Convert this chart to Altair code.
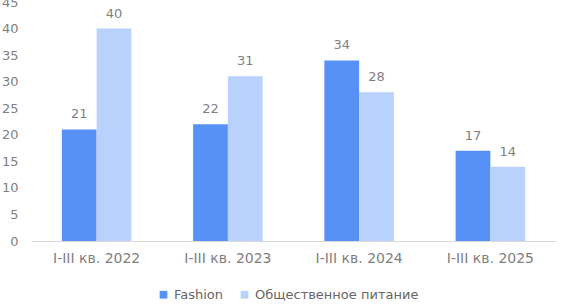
import altair as alt
import pandas as pd

categories = ["I-III кв. 2022", "I-III кв. 2023", "I-III кв. 2024", "I-III кв. 2025"]
series = ["Fashion", "Общественное питание"]
fashion = [21, 22, 34, 17]
food = [40, 31, 28, 14]

rows = []
for c, f, p in zip(categories, fashion, food):
    rows.append({"cat": c, "series": series[0], "value": f})
    rows.append({"cat": c, "series": series[1], "value": p})
df = pd.DataFrame(rows)

FONT = "DejaVu Sans"
GRAY = "#7f7f7f"

base = alt.Chart(df).encode(
    x=alt.X("cat:N", sort=categories, title=None,
            scale=alt.Scale(paddingInner=0.47, paddingOuter=0.235),
            axis=alt.Axis(labelAngle=0, ticks=False, domainColor="#d9d9d9",
                          labelFontSize=14, labelColor=GRAY, labelFont=FONT,
                          labelPadding=10)),
    xOffset=alt.XOffset("series:N", sort=series, scale=alt.Scale(paddingInner=0, paddingOuter=0)),
    y=alt.Y("value:Q", title=None,
            scale=alt.Scale(domain=[0, 45]),
            axis=alt.Axis(values=list(range(0, 46, 5)), grid=False, domain=False, ticks=False,
                          labelOverlap=False,
                          labelFontSize=13, labelColor=GRAY, labelFont=FONT, labelPadding=13)),
)

bars = base.mark_bar().encode(
    color=alt.Color("series:N", sort=series,
                    scale=alt.Scale(domain=series, range=["#5891F6", "#B9D2FB"]),
                    legend=alt.Legend(title=None, orient="none", direction="horizontal",
                                      legendX=126, legendY=286, symbolType="square",
                                      symbolSize=60, labelFontSize=13, labelColor="#666666",
                                      labelFont=FONT, columnPadding=14, symbolOffset=0,
                                      labelOffset=4, labelLimit=300)),
)

labels = base.mark_text(baseline="bottom", dy=-8, fontSize=13, color=GRAY, font=FONT).encode(
    text=alt.Text("value:Q"),
)

chart = (bars + labels).properties(
    width=525, height=239,
    background="white",
    autosize=alt.AutoSizeParams(type="none"),
    padding={"left": 31, "top": 2, "right": 7, "bottom": 63},
).configure_view(stroke=None)

chart.save("out.html", embed_options={"renderer": "svg", "actions": False})
